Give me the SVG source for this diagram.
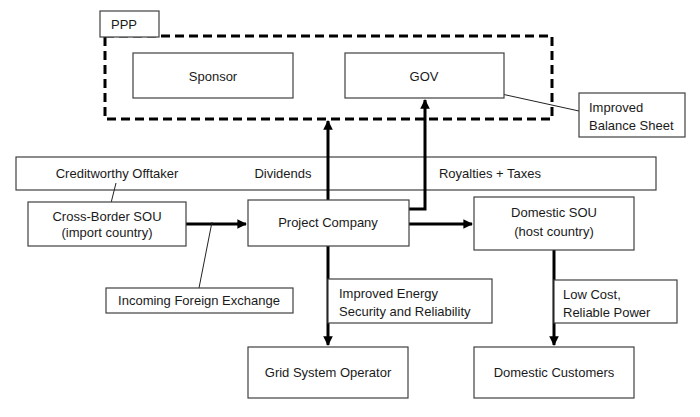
<svg xmlns="http://www.w3.org/2000/svg" width="700" height="417" viewBox="0 0 700 417">
<defs>
<style>
.box{fill:#fff;stroke:#404040;stroke-width:1.2}
.t{font-family:"Liberation Sans",Arial,sans-serif;font-size:13px;fill:#1a1a1a}
.c{text-anchor:middle}
.th{fill:none;stroke:#000;stroke-width:3}
.thin{fill:none;stroke:#222;stroke-width:1}
</style>
<marker id="ah" viewBox="0 0 10 10" refX="9" refY="5" markerWidth="3.2" markerHeight="3.2" orient="auto" markerUnits="strokeWidth">
<path d="M0,0 L10,5 L0,10 z" fill="#000"/>
</marker>
</defs>
<rect width="700" height="417" fill="#fff"/>

<g id="band">
<rect class="box" x="16" y="157" width="640" height="33"/>
<text class="t c" x="117" y="178">Creditworthy Offtaker</text>
<text class="t c" x="283" y="178">Dividends</text>
<text class="t c" x="490" y="178">Royalties + Taxes</text>
</g>

<g id="ppp">
<rect x="105" y="36" width="447" height="83" fill="none" stroke="#000" stroke-width="3" stroke-dasharray="9,5"/>
<rect class="box" x="100" y="11" width="59" height="26"/>
<text class="t" x="111" y="29">PPP</text>
</g>

<g id="connectors">
<line class="th" x1="328" y1="200" x2="328" y2="121" marker-end="url(#ah)"/>
<polyline class="th" points="409,209 425,209 425,100" marker-end="url(#ah)"/>
<line class="th" x1="186" y1="224" x2="246" y2="224" marker-end="url(#ah)"/>
<line class="th" x1="409" y1="224" x2="472" y2="224" marker-end="url(#ah)"/>
<line class="th" x1="328" y1="246" x2="328" y2="345" marker-end="url(#ah)"/>
<line class="th" x1="554" y1="250" x2="554" y2="345" marker-end="url(#ah)"/>
<line class="thin" x1="116" y1="183" x2="111" y2="203"/>
<line class="thin" x1="212" y1="222" x2="199" y2="288"/>
<line class="thin" x1="497" y1="93" x2="579" y2="111"/>
</g>

<g id="sponsor">
<rect class="box" x="133" y="53" width="160" height="45"/>
<text class="t c" x="213" y="81">Sponsor</text>
</g>
<g id="gov">
<rect class="box" x="345" y="53" width="159" height="45"/>
<text class="t c" x="424" y="81">GOV</text>
</g>
<g id="balance">
<rect class="box" x="579" y="93" width="106" height="44"/>
<text class="t" x="589" y="112">Improved</text>
<text class="t" x="589" y="130">Balance Sheet</text>
</g>
<g id="crossborder">
<rect class="box" x="28" y="202" width="158" height="44"/>
<text class="t c" x="107" y="221">Cross-Border SOU</text>
<text class="t c" x="107" y="237">(import country)</text>
</g>
<g id="project">
<rect class="box" x="248" y="200" width="161" height="46"/>
<text class="t c" x="328" y="227">Project Company</text>
</g>
<g id="domesticsou">
<rect class="box" x="474" y="197" width="160" height="53"/>
<text class="t c" x="554" y="217">Domestic SOU</text>
<text class="t c" x="554" y="236">(host country)</text>
</g>
<g id="forex">
<rect class="box" x="106" y="288" width="187" height="25"/>
<text class="t c" x="199" y="305">Incoming Foreign Exchange</text>
</g>
<g id="energy">
<rect class="box" x="328" y="279" width="164" height="44"/>
<text class="t" x="339" y="298">Improved Energy</text>
<text class="t" x="339" y="316">Security and Reliability</text>
</g>
<g id="lowcost">
<rect class="box" x="554" y="280" width="123" height="43"/>
<text class="t" x="563" y="299">Low Cost,</text>
<text class="t" x="563" y="317">Reliable Power</text>
</g>
<g id="grid">
<rect class="box" x="248" y="347" width="160" height="51"/>
<text class="t c" x="328" y="377">Grid System Operator</text>
</g>
<g id="customers">
<rect class="box" x="474" y="347" width="160" height="51"/>
<text class="t c" x="554" y="377">Domestic Customers</text>
</g>
</svg>
